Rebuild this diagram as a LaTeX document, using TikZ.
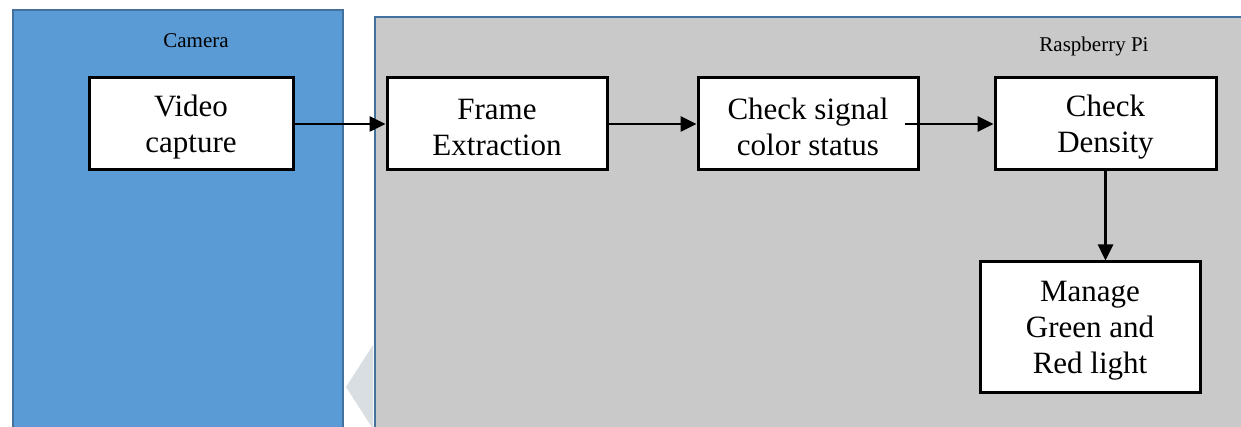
\documentclass[tikz,border=0pt]{standalone}
\usepackage{fontspec}
\setmainfont{Liberation Serif}
\usetikzlibrary{arrows.meta}
\definecolor{camblue}{HTML}{5B9BD5}
\definecolor{edgeblue}{HTML}{41719C}
\definecolor{pigrey}{HTML}{C9C9C9}
\definecolor{ghost}{HTML}{D9DEE3}

\begin{document}
\begin{tikzpicture}[x=1pt, y=-1pt,
	panel/.style={draw=edgeblue, line width=2.4pt},
	procbox/.style={rectangle, draw=black, fill=white, line width=3pt, minimum height=92pt, align=center, inner sep=2pt, font=\fontsize{31}{36}\selectfont},
	panellabel/.style={anchor=base, inner sep=0pt, font=\fontsize{21}{24}\selectfont},
	flow/.style={line width=2.6pt, -{Triangle[length=16pt, width=15pt]}}]
			\path[use as bounding box, clip] (0,0) rectangle (1241,427);
			\fill[white] (0,0) rectangle (1241,427);
			\draw[panel, fill=camblue] (13,10) rectangle (343,450);
			\draw[panel, fill=pigrey] (375,17) rectangle (1270,450);
			\fill[ghost] (373,345) -- (346,387) -- (373,429) -- cycle;
			\node[panellabel](camlabel) at (196,48){Camera};
			\node[panellabel](pilabel) at (1094,52){Raspberry Pi};
			\node[procbox, minimum width=204pt](video) at (191,124){\rule{0pt}{28pt}Video\\capture};
			\node[procbox, minimum width=220pt](frame) at (497,124){\rule{0pt}{28pt}Frame\\Extraction};
			\node[procbox, minimum width=220pt](signal) at (808,124){\rule{0pt}{28pt}Check signal\\color status};
			\node[procbox, minimum width=221pt](density) at (1105.5,124){\rule{0pt}{28pt}Check\\Density};
			\node[procbox, minimum width=220pt, minimum height=130pt](manage) at (1090,327){\rule{0pt}{28pt}Manage\\Green and\\Red light};
			\draw[flow] (video) -- (frame);
			\draw[flow] (frame) -- (signal);
			\draw[flow] ([xshift=-15pt]signal.east) -- (density);
			\draw[flow] (density) -- (density |- manage.north);
\end{tikzpicture}
\end{document}
